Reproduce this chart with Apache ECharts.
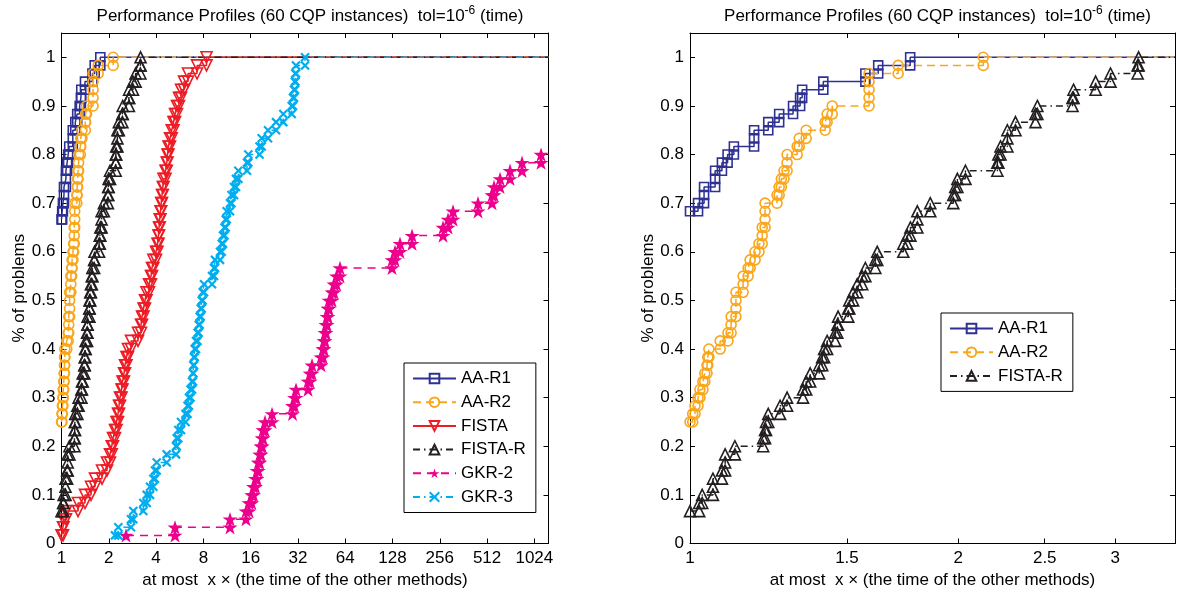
<!DOCTYPE html>
<html><head><meta charset="utf-8">
<script src="https://cdn.jsdelivr.net/npm/echarts@6/dist/echarts.min.js"></script>
<style>html,body{margin:0;padding:0;background:#fff}#c{width:1177px;height:594px}</style>
</head><body><div id="c"></div>
<script>
const FONT = '"Liberation Sans", Arial, Helvetica, sans-serif';
const N_PROBLEMS = 60;
const LEFT_TICKS = [1, 2, 4, 8, 16, 32, 64, 128, 256, 512, 1024];
const LEFT_XMAX = 1260;
const RIGHT_TICKS = [1, 1.5, 2, 2.5, 3];
const RIGHT_XMAX = 3.5;
const Y_TICKS = [0, 0.1, 0.2, 0.3, 0.4, 0.5, 0.6, 0.7, 0.8, 0.9, 1];
const Y_MAX = 1.05;
const TITLE = 'Performance Profiles (60 CQP instances)  tol=10';
const TITLE_SUP = '-6';
const TITLE_END = ' (time)';
const X_NAME = 'at most  x \u00d7 (the time of the other methods)';
const Y_NAME = '% of problems';
const LEFT_NAMES = ['AA-R1', 'AA-R2', 'FISTA', 'FISTA-R', 'GKR-2', 'GKR-3'];
const RIGHT_NAMES = ['AA-R1', 'AA-R2', 'FISTA-R'];

// performance ratio breakpoints (x) and cumulative solved counts (n); if n missing, each x is one problem
const aaR1Left_x = [1, 1.01, 1.021, 1.037, 1.067, 1.086, 1.102, 1.12, 1.18, 1.224, 1.259, 1.305, 1.329, 1.336, 1.411, 1.573, 1.626, 1.766];
const aaR1Left_n = [40, 41, 42, 44, 46, 47, 48, 49, 51, 52, 53, 54, 55, 56, 57, 58, 59, 60];
const aaR1Right_x = [1, 1.021, 1.037, 1.067, 1.086, 1.102, 1.12, 1.18, 1.224, 1.259, 1.305, 1.329, 1.336, 1.411, 1.573, 1.626, 1.766];
const aaR1Right_n = [41, 42, 44, 46, 47, 48, 49, 51, 52, 53, 54, 55, 56, 57, 58, 59, 60];
const aaR2_x = [1, 1.007, 1.013, 1.021, 1.026, 1.034, 1.039, 1.045, 1.047, 1.05, 1.081, 1.103, 1.112, 1.126, 1.147, 1.162, 1.168, 1.183, 1.195, 1.205, 1.214, 1.252, 1.259, 1.266, 1.275, 1.285, 1.319, 1.326, 1.35, 1.418, 1.425, 1.444, 1.588, 1.712, 2.133];
const aaR2_n = [15, 16, 17, 18, 19, 20, 21, 22, 23, 24, 25, 26, 28, 31, 33, 34, 35, 36, 37, 39, 42, 43, 44, 45, 46, 48, 49, 50, 51, 52, 53, 54, 58, 59, 60];
const fistaR_x = [1, 1.024, 1.032, 1.061, 1.086, 1.095, 1.123, 1.208, 1.214, 1.217, 1.224, 1.262, 1.285, 1.339, 1.35, 1.364, 1.396, 1.407, 1.414, 1.425, 1.455, 1.463, 1.466, 1.505, 1.509, 1.524, 1.54, 1.56, 1.573, 1.614, 1.622, 1.735, 1.753, 1.767, 1.799, 1.86, 1.974, 1.984, 1.995, 2.037, 2.212, 2.218, 2.23, 2.27, 2.318, 2.441, 2.453, 2.686, 2.693, 2.851, 2.963, 3.178, 3.186];
const fistaR_n = [4, 5, 6, 8, 9, 11, 12, 13, 14, 15, 16, 17, 18, 19, 20, 21, 22, 23, 24, 25, 26, 27, 28, 29, 30, 31, 32, 33, 34, 35, 36, 37, 38, 39, 41, 42, 43, 44, 45, 46, 47, 48, 49, 51, 52, 53, 54, 55, 56, 57, 58, 59, 60];
const fista_x = [1, 1.022, 1.03, 1.068, 1.274, 1.411, 1.541, 1.634, 1.811, 1.948, 2.036, 2.088, 2.128, 2.191, 2.24, 2.29, 2.323, 2.358, 2.41, 2.446, 2.5, 2.537, 2.593, 2.651, 2.77, 3.069, 3.208, 3.255, 3.327, 3.401, 3.477, 3.607, 3.714, 3.769, 3.842, 3.997, 4.085, 4.146, 4.176, 4.219, 4.269, 4.313, 4.364, 4.416, 4.461, 4.594, 4.682, 4.731, 4.8, 4.907, 5.031, 5.165, 5.28, 5.437, 5.599, 5.766, 6.025, 6.389, 7.29, 8.38];
const gkr2_x = [2.574, 5.28, 11.825, 14.95, 15.63, 16.26, 16.69, 17.19, 17.57, 17.91, 18.28, 18.63, 18.96, 19.18, 19.76, 21.89, 29.57, 30.44, 31.12, 37.11, 38.22, 39.35, 44.9, 46.24, 46.92, 47.61, 48.31, 49.03, 49.75, 50.48, 52.75, 54.32, 56.35, 59.32, 127.1, 132.8, 142.9, 170.5, 268.5, 289, 310.9, 448.5, 550.8, 567.2, 619.4, 717.1, 854.9, 1129.6];
const gkr3_x = [2.191, 2.3, 2.77, 2.865, 3.318, 3.487, 3.66, 3.842, 3.938, 4.038, 4.675, 5.358, 5.414, 5.542, 5.766, 6.159, 6.342, 6.483, 6.627, 6.775, 6.875, 6.905, 6.976, 7.048, 7.184, 7.344, 7.474, 7.584, 7.696, 7.81, 7.925, 8.078, 9.083, 9.354, 9.492, 10.213, 10.471, 10.672, 10.909, 11.103, 11.267, 11.825, 12.088, 12.539, 12.912, 13.355, 15.172, 15.464, 18.221, 18.819, 20.647, 23.216, 25.83, 29.22, 29.78, 30.22, 30.67, 30.8, 31.12, 35.51];

const STAR = 'path://M50,0 L61.2,34.5 L97.6,34.5 L68.2,55.9 L79.4,90.5 L50,69.1 L20.6,90.5 L31.8,55.9 L2.4,34.5 L38.8,34.5 Z';
const XMARK = 'path://M0,0 L10,10 M10,0 L0,10';
const STYLES = {
  'AA-R1': { color: '#2E3192', type: 'solid', symbol: 'rect', size: 9, fill: false, bw: 1.6 },
  'AA-R2': { color: '#FAA61A', type: [8, 5], symbol: 'circle', size: 10, fill: false, bw: 1.6 },
  'FISTA': { color: '#ED1C24', type: 'solid', symbol: 'triangle', rotate: 180, size: 11, fill: false, bw: 1.6 },
  'FISTA-R': { color: '#231F20', type: [7, 4, 1.5, 4], symbol: 'triangle', size: 11, fill: false, bw: 1.6 },
  'GKR-2': { color: '#EC008C', type: [8, 6], symbol: STAR, size: 15, fill: true, bw: 0 },
  'GKR-3': { color: '#00AEEF', type: [7, 4, 1.5, 4], symbol: XMARK, size: 8, fill: false, bw: 2.2 }
};

const L = Math.log2;
function stairs(xs, ns, xmax) {
  const counts = ns || xs.map((_, i) => i + 1);
  const pts = [[L(xs[0]), counts[0] / N_PROBLEMS]];
  for (let k = 1; k < xs.length; k++) {
    for (let j = counts[k - 1]; j <= counts[k]; j++) pts.push([L(xs[k]), j / N_PROBLEMS]);
  }
  pts.push({ value: [L(xmax), counts[counts.length - 1] / N_PROBLEMS], symbol: 'none' });
  return pts;
}
function mk(name, data, axis) {
  const s = STYLES[name];
  return {
    type: 'line', name, data, xAxisIndex: axis * 2, yAxisIndex: axis * 2,
    symbol: s.symbol, symbolSize: s.size, symbolRotate: s.rotate || 0, symbolKeepAspect: true,
    showAllSymbol: true, clip: true, animation: false, silent: true,
    lineStyle: { color: s.color, width: 1.5, type: s.type },
    itemStyle: { color: s.fill ? s.color : 'rgba(0,0,0,0)', borderColor: s.color, borderWidth: s.bw },
    emphasis: { disabled: true }
  };
}
const FS = 17;
const txt = { color: '#000', fontFamily: FONT, fontSize: FS, fontWeight: 'normal' };
function fmtFrom(ticks) {
  return v => { const t = ticks.find(t => Math.abs(L(t) - v) < 1e-6); return t === undefined ? '' : String(t); };
}
function xAxes(grid, ticks, xmax) {
  const cv = ticks.map(L);
  const base = {
    type: 'value', gridIndex: grid, min: 0, max: L(xmax), splitLine: { show: false },
    axisLine: { show: true, onZero: false, lineStyle: { color: '#000', width: 1 } },
    axisTick: { show: true, inside: true, length: 5, customValues: cv, lineStyle: { color: '#000', width: 1 } }
  };
  return [
    Object.assign({}, base, {
      position: 'bottom',
      axisLabel: Object.assign({ show: true, margin: 6, customValues: cv, formatter: fmtFrom(ticks) }, txt),
      name: X_NAME, nameLocation: 'middle', nameGap: 25, nameTextStyle: txt
    }),
    Object.assign({}, base, { position: 'top', axisLabel: { show: false } })
  ];
}
function yAxes(grid) {
  const base = {
    type: 'value', gridIndex: grid, min: 0, max: Y_MAX, splitLine: { show: false },
    axisLine: { show: true, onZero: false, lineStyle: { color: '#000', width: 1 } },
    axisTick: { show: true, inside: true, length: 5, customValues: Y_TICKS, lineStyle: { color: '#000', width: 1 } }
  };
  return [
    Object.assign({}, base, {
      position: 'left',
      axisLabel: Object.assign({ show: true, margin: 6, customValues: Y_TICKS, formatter: v => String(Math.round(v * 10) / 10) }, txt),
      name: Y_NAME, nameLocation: 'middle', nameGap: 30, nameTextStyle: txt
    }),
    Object.assign({}, base, { position: 'right', axisLabel: { show: false } })
  ];
}
function title(cx) {
  return {
    text: '{a|' + TITLE + '}{s|' + TITLE_SUP + '}{a|' + TITLE_END + '}',
    left: cx, top: 0, textAlign: 'center',
    textStyle: { fontWeight: 'normal', rich: {
      a: { fontFamily: FONT, fontSize: FS, fontWeight: 'normal', color: '#000', lineHeight: 22 },
      s: { fontFamily: FONT, fontSize: 12, fontWeight: 'normal', color: '#000', lineHeight: 22, verticalAlign: 'top' }
    } }
  };
}
function legend(names, left, top) {
  return {
    data: names, orient: 'vertical', left, top, padding: [7, 10, 7, 8], itemGap: 6.7,
    itemWidth: 43, itemHeight: 12, borderColor: '#000', borderWidth: 1, backgroundColor: '#fff',
    selectedMode: false, textStyle: Object.assign({ lineHeight: 17 }, txt)
  };
}

const leftSeries = [
  mk('AA-R1', stairs(aaR1Left_x, aaR1Left_n, LEFT_XMAX), 0),
  mk('AA-R2', stairs(aaR2_x, aaR2_n, LEFT_XMAX), 0),
  mk('FISTA', stairs(fista_x, null, LEFT_XMAX), 0),
  mk('FISTA-R', stairs(fistaR_x, fistaR_n, LEFT_XMAX), 0),
  mk('GKR-2', stairs(gkr2_x, null, LEFT_XMAX), 0),
  mk('GKR-3', stairs(gkr3_x, null, LEFT_XMAX), 0)
];
const rightSeries = [
  mk('AA-R1', stairs(aaR1Right_x, aaR1Right_n, RIGHT_XMAX), 1),
  mk('AA-R2', stairs(aaR2_x, aaR2_n, RIGHT_XMAX), 1),
  mk('FISTA-R', stairs(fistaR_x, fistaR_n, RIGHT_XMAX), 1)
];

const chart = echarts.init(document.getElementById('c'), null, { renderer: 'canvas' });
chart.setOption({
  animation: false,
  backgroundColor: '#fff',
  title: [title(305), title(932.5)],
  grid: [
    { left: 61.5, top: 33, width: 487, height: 510.5 },
    { left: 690, top: 33, width: 485, height: 510.5 }
  ],
  xAxis: [].concat(xAxes(0, LEFT_TICKS, LEFT_XMAX), xAxes(1, RIGHT_TICKS, RIGHT_XMAX)),
  yAxis: [].concat(yAxes(0), yAxes(1)),
  legend: [legend(LEFT_NAMES, 404, 363), legend(RIGHT_NAMES, 941, 313)],
  series: leftSeries.concat(rightSeries)
});
</script></body></html>
